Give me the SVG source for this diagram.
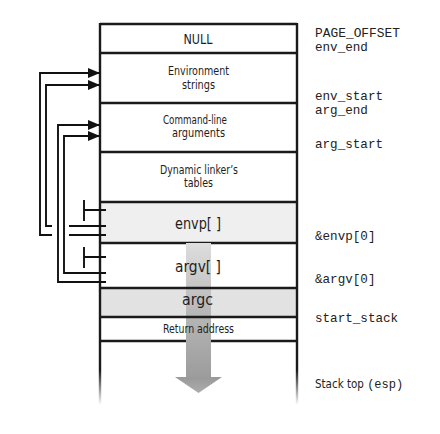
<svg xmlns="http://www.w3.org/2000/svg" width="440" height="434" viewBox="0 0 440 434">
<style>
.box{stroke:#1a1a1a;stroke-width:2.4;fill:none}
.con{stroke:#111;stroke-width:1.9;fill:none}
.lbl{font-family:'DejaVu Sans Condensed','DejaVu Sans',sans-serif;font-stretch:condensed;fill:#1e1e1e;text-anchor:middle}
.sm{font-size:11.5px}
.big{font-size:16px}
.mono{font-family:'Liberation Mono','DejaVu Sans Mono',monospace;font-size:12.6px;fill:#222}
</style>
<defs>
<marker id="ah" markerUnits="userSpaceOnUse" markerWidth="13" markerHeight="11" refX="12" refY="5" orient="auto">
<path d="M0,0 L12,5 L0,10 Z" fill="#111"/>
</marker>
<linearGradient id="fade" x1="0" y1="370" x2="0" y2="405" gradientUnits="userSpaceOnUse">
<stop offset="0" stop-color="#1a1a1a"/>
<stop offset="1" stop-color="#1a1a1a" stop-opacity="0"/>
</linearGradient>
<linearGradient id="shaft" x1="0" y1="243" x2="0" y2="378" gradientUnits="userSpaceOnUse">
<stop offset="0" stop-color="#dedede"/>
<stop offset="0.5" stop-color="#b8b8b8"/>
<stop offset="1" stop-color="#9c9c9c"/>
</linearGradient>
<linearGradient id="head" x1="0" y1="377" x2="0" y2="393" gradientUnits="userSpaceOnUse">
<stop offset="0" stop-color="#999"/>
<stop offset="1" stop-color="#adadad"/>
</linearGradient>
</defs>

<g id="stack">
<rect x="100" y="202" width="197" height="41" fill="#efefef"/>
<rect x="100" y="288" width="197" height="29" fill="#e2e2e2"/>
<line class="box" x1="100" y1="24" x2="297" y2="24"/>
<line class="box" x1="100" y1="53" x2="297" y2="53"/>
<line class="box" x1="100" y1="103" x2="297" y2="103"/>
<line class="box" x1="100" y1="152" x2="297" y2="152"/>
<line class="box" x1="100" y1="202" x2="297" y2="202"/>
<line class="box" x1="100" y1="243" x2="297" y2="243"/>
<line class="box" x1="100" y1="341" x2="297" y2="341"/>
<line class="box" x1="100" y1="23" x2="100" y2="370"/>
<line class="box" x1="297" y1="23" x2="297" y2="370"/>
<rect x="98.8" y="370" width="2.4" height="35" fill="url(#fade)"/>
<rect x="295.8" y="370" width="2.4" height="35" fill="url(#fade)"/>
</g>

<g id="growth-arrow">
<rect x="186" y="243" width="25" height="135" fill="url(#shaft)"/>
<path d="M175,377 L222,377 L198.5,393 Z" fill="url(#head)"/>
</g>

<g id="row-lines">
<line class="box" x1="100" y1="288" x2="297" y2="288"/>
<line class="box" x1="100" y1="317" x2="297" y2="317"/>
</g>

<g id="null"><text class="lbl" x="198" y="44" font-size="14.5" textLength="29" lengthAdjust="spacingAndGlyphs">NULL</text></g>
<g id="env-strings">
<text class="lbl sm" x="198.5" y="75" textLength="61" lengthAdjust="spacingAndGlyphs">Environment</text>
<text class="lbl sm" x="198.5" y="88.5" textLength="33" lengthAdjust="spacingAndGlyphs">strings</text>
</g>
<g id="cmd-args">
<text class="lbl sm" x="195" y="123.5" textLength="64" lengthAdjust="spacingAndGlyphs">Command-line</text>
<text class="lbl sm" x="198.5" y="137" textLength="53" lengthAdjust="spacingAndGlyphs">arguments</text>
</g>
<g id="dyn-linker">
<text class="lbl sm" x="199" y="173.5" textLength="78" lengthAdjust="spacingAndGlyphs">Dynamic linker’s</text>
<text class="lbl sm" x="198.5" y="187" textLength="29" lengthAdjust="spacingAndGlyphs">tables</text>
</g>
<g id="envp"><text class="lbl big" x="198" y="229" textLength="46" lengthAdjust="spacingAndGlyphs">envp[ ]</text></g>
<g id="argv"><text class="lbl big" x="198" y="272" textLength="46" lengthAdjust="spacingAndGlyphs">argv[ ]</text></g>
<g id="argc"><text class="lbl big" x="197.5" y="305" textLength="31" lengthAdjust="spacingAndGlyphs">argc</text></g>
<g id="return"><text class="lbl" x="198.5" y="333" font-size="12.5" textLength="71" lengthAdjust="spacingAndGlyphs">Return address</text></g>

<g id="addr-labels">
<text class="mono" x="315" y="37" textLength="85" lengthAdjust="spacingAndGlyphs">PAGE_OFFSET</text>
<text class="mono" x="315" y="50.5">env_end</text>
<text class="mono" x="315" y="100">env_start</text>
<text class="mono" x="315" y="114">arg_end</text>
<text class="mono" x="315" y="148">arg_start</text>
<text class="mono" x="315" y="240">&amp;envp[0]</text>
<text class="mono" x="315" y="283">&amp;argv[0]</text>
<text class="mono" x="315" y="322">start_stack</text>
<text x="315" y="388" fill="#222" font-family="'DejaVu Sans Condensed','DejaVu Sans',sans-serif" font-stretch="condensed" font-size="11.5">Stack top <tspan font-family="'Liberation Mono','DejaVu Sans Mono',monospace" font-size="12">(esp)</tspan></text>
</g>

<g id="connectors">
<path class="con" d="M52,235 H40 V73 H100" marker-end="url(#ah)"/>
<path class="con" d="M69,235 H106"/>
<path class="con" d="M52,226 H46 V85 H100" marker-end="url(#ah)"/>
<path class="con" d="M69,226 H106"/>
<path class="con" d="M106,282 H58 V125 H100" marker-end="url(#ah)"/>
<path class="con" d="M106,273 H64 V136 H100" marker-end="url(#ah)"/>
<path class="con" d="M84,200 V221 M84,210 H106"/>
<path class="con" d="M84,247 V268 M84,257 H106"/>
</g>
</svg>
